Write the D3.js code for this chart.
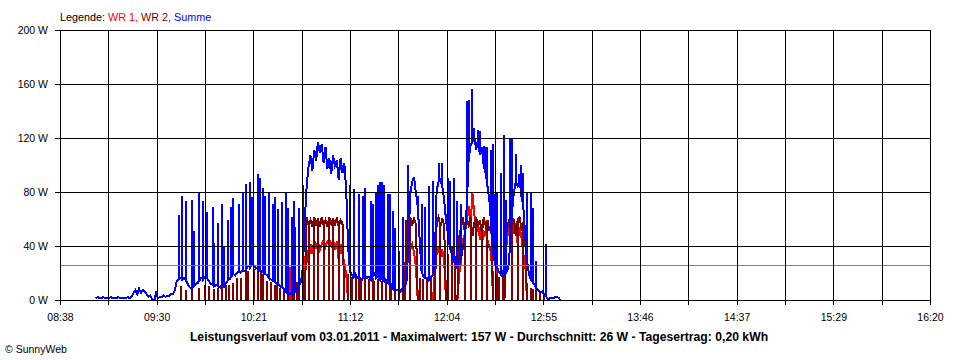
<!DOCTYPE html>
<html>
<head>
<meta charset="utf-8">
<script src="https://cdn.jsdelivr.net/npm/d3@7"></script>
<style>
  body { margin: 0; background: #fff; }
  svg { display: block; font-family: "Liberation Sans", Arial, sans-serif; }
</style>
</head>
<body>
<div id="chart"></div>
<script>
// Leistungsverlauf 03.01.2011 - Werte pro Minute ab 08:57
const day = "2011-01-03";
const firstSample = "08:57";
const xLabels = ["08:38", "09:30", "10:21", "11:12", "12:04", "12:55", "13:46", "14:37", "15:29", "16:20"];
const yTicks = [0, 40, 80, 120, 160, 200];
const average = 26;

// Summe (W), Grundverlauf
const sumBase = [
  2, 3, 2, 2, 3, 2, 2, 2, 3, 2,
  2, 2, 3, 2, 2, 2, 2, 3, 2, 3,
  6, 8, 5, 9, 6, 8, 7, 5, 3, 4,
  1, 0, 6, 2, 3, 3, 4, 3, 4, 4,
  5, 5, 8, 15, 16, 17, 16, 17, 15, 12,
  10, 9, 11, 12, 14, 15, 17, 16, 18, 17,
  15, 13, 12, 11, 12, 11, 10, 12, 11, 13,
  15, 17, 18, 20, 19, 21, 22, 21, 23, 22,
  24, 26, 25, 27, 26, 24, 25, 23, 22, 21,
  20, 19, 17, 16, 15, 14, 13, 12, 11, 10,
  9, 7, 6, 5, 6, 5, 7, 9, 12, 14,
  25, 60, 85, 100, 108, 96, 112, 104, 118, 110,
  116, 102, 114, 98, 106, 94, 108, 100, 104, 90,
  106, 95, 102, 82, 40, 22, 19, 18, 20, 17,
  18, 16, 17, 19, 17, 18, 16, 18, 20, 17,
  18, 16, 17, 15, 16, 14, 13, 11, 9, 8,
  8, 9, 7, 10, 9, 15, 40, 80, 88, 92,
  80, 70, 45, 22, 18, 17, 16, 16, 18, 19,
  30, 82, 88, 90, 85, 75, 60, 50, 40, 35,
  30, 27, 26, 28, 32, 40, 48, 70, 105, 115,
  118, 122, 112, 120, 108, 114, 100, 95, 85, 75,
  55, 35, 28, 25, 22, 20, 22, 19, 21, 24,
  40, 65, 80, 88, 85, 90, 78, 70, 50, 30,
  20, 16, 14, 12, 9, 8, 6, 7, 5, 4,
  1, 2, 2, 2, 3, 3, 2, 0
];
// Summe, kurze Spitzen [Minute, W]
const sumSpikes = [
  [44, 64], [46, 78], [48, 74], [51, 75], [52, 52], [55, 80], [57, 74], [59, 66],
  [62, 70], [63, 43], [65, 58], [67, 72], [68, 41], [70, 60], [72, 70], [73, 76],
  [76, 72], [78, 80], [80, 87], [82, 88], [83, 77], [86, 94], [87, 91], [89, 84],
  [90, 78], [92, 81], [94, 72], [95, 77], [97, 68], [99, 73], [101, 81], [102, 69],
  [104, 62], [105, 74], [106, 55], [108, 69], [110, 86],
  [135, 86], [137, 83], [140, 79], [142, 78], [143, 84], [146, 74], [147, 72],
  [149, 81], [150, 86], [151, 88], [152, 88], [153, 86], [155, 79], [156, 79],
  [158, 67], [159, 54], [161, 37], [163, 62], [166, 101],
  [171, 78], [173, 72], [175, 70], [177, 85], [179, 89], [182, 102], [184, 102],
  [187, 91], [188, 89], [190, 91], [192, 74], [194, 72], [197, 148], [198, 149],
  [200, 157], [201, 128], [203, 127], [204, 126], [206, 115], [207, 114], [208, 114],
  [210, 112], [211, 116], [212, 79], [213, 80], [215, 95], [217, 123], [218, 75],
  [220, 120], [221, 120], [223, 109], [225, 94], [226, 101], [227, 95],
  [229, 80], [231, 80], [232, 69], [234, 30], [239, 42]
];

// WR 1 (W)
const wr1Base = [
  0, 0, 0, 0, 0, 0, 0, 0, 0, 0,
  0, 0, 0, 0, 0, 0, 0, 0, 0, 0,
  0, 0, 0, 0, 0, 0, 0, 0, 0, 0,
  0, 0, 0, 0, 0, 0, 0, 0, 0, 0,
  0, 0, 0, 0, 0, 0, 0, 0, 0, 0,
  0, 0, 0, 0, 0, 0, 0, 0, 0, 0,
  0, 0, 0, 0, 0, 0, 0, 0, 0, 0,
  0, 0, 0, 0, 0, 0, 0, 0, 0, 0,
  0, 0, 0, 0, 0, 0, 0, 0, 0, 0,
  0, 0, 0, 0, 0, 0, 0, 0, 0, 0,
  0, 0, 0, 0, 0, 0, 0, 0, 0, 0,
  0, 30, 38, 28, 42, 35, 45, 40, 44, 38,
  42, 45, 40, 44, 46, 41, 45, 38, 44, 30,
  42, 35, 28, 20, 0, 0, 0, 0, 0, 0,
  0, 0, 0, 0, 0, 0, 0, 0, 0, 0,
  0, 0, 0, 0, 0, 0, 0, 0, 0, 0,
  0, 0, 0, 0, 0, 35, 40, 38, 42, 36,
  25, 0, 0, 0, 0, 0, 0, 0, 0, 0,
  20, 35, 40, 32, 38, 30, 0, 0, 0, 0,
  0, 0, 0, 20, 30, 45, 50, 60, 70, 55,
  80, 65, 50, 58, 45, 55, 48, 52, 45, 40,
  35, 0, 0, 0, 0, 0, 0, 25, 40, 55,
  45, 60, 50, 58, 42, 55, 48, 35, 30, 0,
  0, 0, 0, 0, 0, 0, 0, 0, 0, 0,
  0, 0, 0, 0, 0, 0, 0, 0
];
const wr1Spikes = [
  [80, 45], [86, 30], [103, 25], [108, 37], [187, 30], [191, 30],
  [213, 39], [234, 17]
];

// WR 2 (W)
const wr2Base = [
  0, 0, 0, 0, 0, 0, 0, 0, 0, 0,
  0, 0, 0, 0, 0, 0, 0, 0, 0, 0,
  0, 0, 0, 0, 0, 0, 0, 0, 0, 0,
  0, 0, 0, 0, 0, 0, 0, 0, 0, 0,
  0, 0, 0, 0, 0, 0, 0, 0, 0, 0,
  0, 0, 0, 0, 0, 0, 0, 0, 0, 0,
  0, 0, 0, 0, 0, 0, 0, 0, 0, 0,
  0, 0, 0, 0, 0, 0, 0, 0, 0, 0,
  0, 0, 0, 0, 0, 0, 0, 0, 0, 0,
  0, 0, 0, 0, 0, 0, 0, 0, 0, 0,
  0, 0, 0, 0, 0, 0, 0, 0, 0, 0,
  0, 0, 62, 56, 60, 55, 62, 57, 61, 55,
  62, 56, 60, 55, 62, 57, 61, 56, 62, 55,
  60, 58, 0, 0, 0, 0, 0, 0, 0, 0,
  0, 0, 0, 0, 0, 0, 0, 0, 0, 0,
  0, 0, 0, 0, 0, 0, 0, 0, 0, 0,
  0, 0, 0, 0, 0, 60, 55, 62, 56, 61,
  57, 0, 0, 0, 0, 0, 0, 0, 0, 0,
  0, 58, 62, 55, 61, 56, 0, 0, 0, 0,
  0, 0, 0, 48, 55, 62, 50, 60, 56, 62,
  48, 58, 62, 55, 60, 50, 62, 56, 60, 52,
  58, 0, 0, 0, 0, 0, 0, 0, 50, 58,
  62, 55, 61, 48, 60, 62, 54, 58, 50, 0,
  0, 0, 0, 0, 0, 0, 0, 0, 0, 0,
  0, 0, 0, 0, 0, 0, 0, 0
];
const wr2Spikes = [
  [45, 11], [48, 8], [51, 9], [55, 10], [58, 12], [60, 11], [63, 9], [65, 10],
  [67, 11], [69, 12], [71, 12], [73, 13], [75, 17], [77, 17], [80, 52], [81, 22],
  [84, 24], [86, 63], [88, 22], [89, 20], [91, 15], [93, 14], [95, 12], [96, 13],
  [98, 10], [100, 10], [102, 10], [104, 12], [105, 10], [107, 14], [108, 17], [110, 22],
  [113, 0], [116, 0], [118, 0], [121, 0], [124, 0], [126, 0], [129, 0],
  [134, 20], [136, 18], [138, 19], [140, 18], [141, 17], [143, 18], [145, 16],
  [147, 17], [148, 15], [150, 16], [152, 15], [154, 16], [156, 14], [157, 13],
  [159, 9], [161, 8], [163, 10], [167, 0],
  [172, 17], [174, 16], [176, 18], [178, 17], [180, 20], [183, 0],
  [187, 35], [189, 40], [191, 33],
  [196, 0], [199, 0], [202, 0], [205, 0], [208, 0],
  [211, 22], [213, 20], [214, 18], [216, 21], [217, 24],
  [221, 0], [224, 0], [227, 0],
  [229, 12], [231, 10], [232, 9], [234, 8], [236, 7], [238, 6]
];

const width = 960;
const height = 360;
const plot = { left: 60, right: 930, top: 30, bottom: 300 };

const parse = d3.timeParse("%Y-%m-%d %H:%M");
const t0 = parse(day + " " + firstSample);

const x = d3.scaleTime()
  .domain([parse(day + " 08:38"), parse(day + " 16:20")])
  .range([plot.left, plot.right]);
const y = d3.scaleLinear().domain([0, 200]).range([plot.bottom, plot.top]);
// Datenlinien 1px tiefer, damit die 0-Linie unter der Achse verschwindet
const yData = d3.scaleLinear().domain([0, 200]).range([plot.bottom + 1, plot.top + 1]);

const svg = d3.select("#chart")
  .append("svg")
  .attr("width", width)
  .attr("height", height);

svg.append("rect").attr("width", width).attr("height", height).attr("fill", "#fff");

// Punkte aufbauen: Spitzen gehen senkrecht hoch und wieder zurück
function buildPoints(base, spikes) {
  const spikeMap = new Map(spikes);
  const pts = [];
  base.forEach((v, i) => {
    const t = new Date(t0.getTime() + i * 60000);
    pts.push({ t, v });
    if (spikeMap.has(i)) {
      pts.push({ t, v: spikeMap.get(i) });
      pts.push({ t, v });
    }
  });
  return pts;
}

svg.append("clipPath").attr("id", "plotClip")
  .append("rect")
  .attr("x", plot.left).attr("y", plot.top)
  .attr("width", plot.right - plot.left).attr("height", plot.bottom - plot.top);

const line = d3.line().x((d) => x(d.t)).y((d) => yData(d.v));

const series = [
  { pts: buildPoints(wr1Base, wr1Spikes), color: "#ff0000" },
  { pts: buildPoints(wr2Base, wr2Spikes), color: "#800000" },
  { pts: buildPoints(sumBase, sumSpikes), color: "#0000ff" }
];

svg.append("g")
  .attr("clip-path", "url(#plotClip)")
  .selectAll("path")
  .data(series)
  .join("path")
  .attr("d", (d) => line(d.pts))
  .attr("fill", "none")
  .attr("stroke", (d) => d.color)
  .attr("stroke-width", 2)
  .attr("shape-rendering", "crispEdges");

// Durchschnittslinie
svg.append("line")
  .attr("x1", plot.left).attr("x2", plot.right)
  .attr("y1", Math.round(y(average)) + 0.5).attr("y2", Math.round(y(average)) + 0.5)
  .attr("stroke", "#808080")
  .attr("shape-rendering", "crispEdges");

// Raster
const [d0, d1] = x.domain();
const tickTimes = d3.range(19).map((k) => new Date(+d0 + (k * (d1 - d0)) / 18));

svg.append("g")
  .selectAll("line")
  .data(tickTimes)
  .join("line")
  .attr("x1", (d) => Math.round(x(d)) + 0.5)
  .attr("x2", (d) => Math.round(x(d)) + 0.5)
  .attr("y1", plot.top)
  .attr("y2", plot.bottom + 1)
  .attr("stroke", "#000")
  .attr("shape-rendering", "crispEdges");

svg.append("g")
  .selectAll("line")
  .data(yTicks)
  .join("line")
  .attr("x1", plot.left)
  .attr("x2", plot.right + 1)
  .attr("y1", (d) => Math.round(y(d)) + 0.5)
  .attr("y2", (d) => Math.round(y(d)) + 0.5)
  .attr("stroke", "#000")
  .attr("shape-rendering", "crispEdges");

// Achsen
const xAxis = d3.axisBottom(x)
  .tickValues(tickTimes)
  .tickSize(5)
  .tickFormat((d, k) => (k % 2 ? "" : xLabels[k / 2]));

const gx = svg.append("g")
  .attr("transform", `translate(0,${plot.bottom})`)
  .call(xAxis);
gx.select(".domain").remove();
gx.attr("font-size", null).attr("font-family", null);
gx.selectAll("line").attr("stroke", "#000").attr("shape-rendering", "crispEdges");
gx.selectAll("text")
  .attr("dy", null)
  .attr("y", 21)
  .attr("fill", "#000")
  .style("font-size", "10.5px");

const yAxis = d3.axisLeft(y)
  .tickValues(yTicks)
  .tickSize(5)
  .tickPadding(7)
  .tickFormat((d) => d + " W");

const gy = svg.append("g")
  .attr("transform", `translate(${plot.left},0)`)
  .call(yAxis);
gy.select(".domain").remove();
gy.attr("font-size", null).attr("font-family", null);
gy.selectAll("line").attr("stroke", "#000").attr("shape-rendering", "crispEdges");
gy.selectAll("text").attr("fill", "#000").style("font-size", "10.5px");

// Legende
const legend = svg.append("text")
  .attr("x", plot.left)
  .attr("y", 20.5)
  .style("font-size", "10.8px");
legend.append("tspan").attr("fill", "#000").text("Legende: ");
legend.append("tspan").attr("fill", "#ff0000").text("WR 1, ");
legend.append("tspan").attr("fill", "#800000").text("WR 2, ");
legend.append("tspan").attr("fill", "#0000ff").text("Summe");

// Titel
svg.append("text")
  .attr("x", 479)
  .attr("y", 341)
  .attr("text-anchor", "middle")
  .style("font-size", "12.2px")
  .style("font-weight", "bold")
  .text("Leistungsverlauf vom 03.01.2011 - Maximalwert: 157 W - Durchschnitt: 26 W - Tagesertrag: 0,20 kWh");

svg.append("text")
  .attr("x", 5)
  .attr("y", 353)
  .style("font-size", "10.5px")
  .text("© SunnyWeb");
</script>
</body>
</html>
